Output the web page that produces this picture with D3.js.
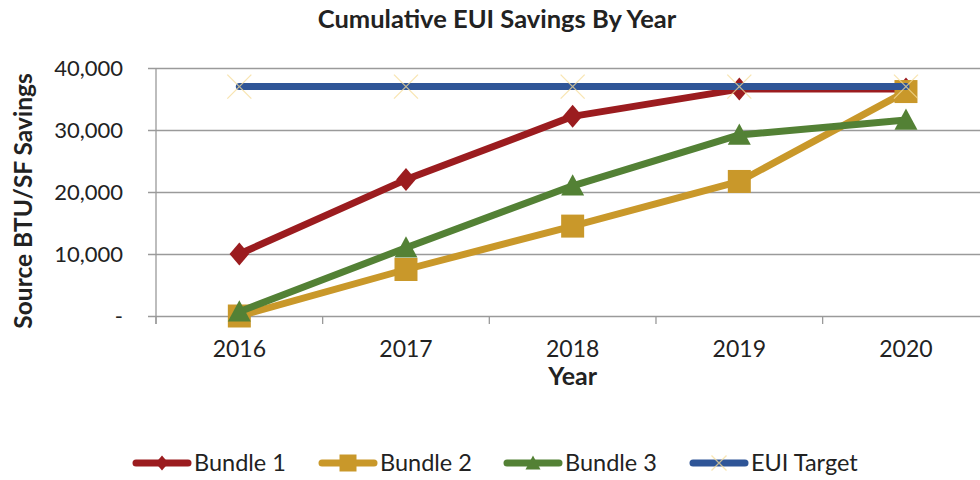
<!DOCTYPE html>
<html>
<head>
<meta charset="utf-8">
<script src="https://cdn.jsdelivr.net/npm/d3@7/dist/d3.min.js"></script>
<style>
  html, body { margin: 0; padding: 0; background: #fff; }
  svg { display: block; font-family: Lato, "Open Sans", sans-serif; }
</style>
</head>
<body>
<svg id="chart" width="980" height="480"></svg>
<script>
// Cumulative source EUI savings (BTU/SF) per bundle, 2016–2020
const years = ["2016", "2017", "2018", "2019", "2020"];
const bundle1 = [10000, 22000, 32200, 36600, 36600];
const bundle2 = [0, 7500, 14500, 21700, 36200];
const bundle3 = [700, 11000, 21000, 29200, 31600];
const euiTarget = [37000, 37000, 37000, 37000, 37000];
const yTicks = [0, 10000, 20000, 30000, 40000];
const seriesNames = ["Bundle 1", "Bundle 2", "Bundle 3", "EUI Target"];

const series = [
  { name: seriesNames[0], values: bundle1, color: "#9B1C1F", marker: "diamond" },
  { name: seriesNames[1], values: bundle2, color: "#C9982A", marker: "square" },
  { name: seriesNames[2], values: bundle3, color: "#538135", marker: "triangle" },
  { name: seriesNames[3], values: euiTarget, color: "#2F5597", marker: "x" }
];

const svg = d3.select("#chart");
const plotLeft = 156, plotRight = 989.3, plotTop = 68, plotBottom = 316;

const x = d3.scaleBand().domain(years).range([plotLeft, plotRight]).paddingInner(0).paddingOuter(0);
const cx = d => x(d) + x.bandwidth() / 2;
const y = d3.scaleLinear().domain([0, 40000]).range([plotBottom, plotTop]);

const gridColor = "#9a9a9a";
const textColor = "#222";

// Title
svg.append("text")
  .attr("x", 497).attr("y", 28)
  .attr("text-anchor", "middle")
  .attr("font-weight", "bold")
  .attr("font-size", 25.5)
  .attr("fill", textColor)
  .text("Cumulative EUI Savings By Year");

// Horizontal gridlines with outward ticks
const yAxis = d3.axisLeft(y)
  .tickValues(yTicks)
  .tickSizeInner(-(980 - plotLeft))
  .tickSizeOuter(0)
  .tickPadding(33)
  .tickFormat(d => d === 0 ? "-" : d3.format(",")(d));

const gy = svg.append("g").attr("transform", `translate(${plotLeft},0)`).call(yAxis);
gy.select(".domain").remove();
gy.selectAll(".tick line")
  .attr("x1", -8)
  .attr("stroke", gridColor)
  .attr("stroke-width", 1.3);
gy.selectAll(".tick text")
  .attr("font-size", 22)
  .attr("fill", textColor)
  .attr("font-family", "Lato, sans-serif");

// Vertical axis line
svg.append("line")
  .attr("x1", plotLeft).attr("x2", plotLeft)
  .attr("y1", plotTop).attr("y2", plotBottom + 8)
  .attr("stroke", gridColor).attr("stroke-width", 1.3);

// Category axis: boundary ticks and centred labels
const boundaries = years.map(d => x(d)).concat([plotRight]);
svg.append("g").selectAll("line")
  .data(boundaries)
  .join("line")
  .attr("x1", d => d).attr("x2", d => d)
  .attr("y1", plotBottom).attr("y2", plotBottom + 8)
  .attr("stroke", gridColor).attr("stroke-width", 1.3);

const xAxis = d3.axisBottom(x).tickSize(0).tickPadding(25);
const gx = svg.append("g").attr("transform", `translate(0,${plotBottom})`).call(xAxis);
gx.select(".domain").remove();
gx.selectAll(".tick text")
  .attr("font-size", 23)
  .attr("fill", textColor)
  .attr("font-family", "Lato, sans-serif");

// Axis titles
svg.append("text")
  .attr("x", (plotLeft + plotRight) / 2).attr("y", 385)
  .attr("text-anchor", "middle")
  .attr("font-weight", "bold").attr("font-size", 25)
  .attr("fill", textColor)
  .text("Year");

svg.append("text")
  .attr("transform", "translate(32,201) rotate(-90)")
  .attr("text-anchor", "middle")
  .attr("font-weight", "bold").attr("font-size", 24.5)
  .attr("fill", textColor)
  .text("Source BTU/SF Savings");

// Marker shapes
function markerPath(type, s) {
  const h = s / 2;
  if (type === "diamond") return `M0,${-h}L${h * 0.85},0L0,${h}L${-h * 0.85},0Z`;
  if (type === "square") return `M${-h},${-h}H${h}V${h}H${-h}Z`;
  if (type === "triangle") return `M0,${-h}L${h},${h * 0.85}L${-h},${h * 0.85}Z`;
  return `M${-h},${-h}L${h},${h}M${h},${-h}L${-h},${h}`;
}

function drawMarker(g, type, color, s) {
  if (type === "x") {
    g.append("path").attr("d", markerPath(type, s))
      .attr("fill", "none").attr("stroke", "#F6DC98")
      .attr("stroke-opacity", 0.75).attr("stroke-width", 1.3);
  } else {
    g.append("path").attr("d", markerPath(type, s)).attr("fill", color);
  }
}

const line = d3.line().x((d, i) => cx(years[i])).y(d => y(d));

// Series lines and markers (later series drawn on top)
series.forEach(s => {
  const g = svg.append("g");
  g.append("path")
    .attr("d", line(s.values))
    .attr("fill", "none")
    .attr("stroke", s.color)
    .attr("stroke-width", 7)
    .attr("stroke-linejoin", "round")
    .attr("stroke-linecap", "round");
  s.values.forEach((v, i) => {
    const mg = g.append("g").attr("transform", `translate(${cx(years[i])},${y(v)})`);
    drawMarker(mg, s.marker, s.color, s.marker === "x" ? 24 : 23);
  });
});

// Legend
const legendX = [133, 319, 504, 690];
const legendY = 463;
series.forEach((s, i) => {
  const g = svg.append("g").attr("transform", `translate(${legendX[i]},${legendY})`);
  g.append("line")
    .attr("x1", 3).attr("x2", 55)
    .attr("stroke", s.color).attr("stroke-width", 7)
    .attr("stroke-linecap", "round");
  const mg = g.append("g").attr("transform", "translate(29,0)");
  drawMarker(mg, s.marker, s.color, s.marker === "square" ? 17 : 15);
  g.append("text")
    .attr("x", 61).attr("y", 0)
    .attr("dy", "0.35em")
    .attr("font-size", 23.5)
    .attr("fill", textColor)
    .text(s.name);
});
</script>
</body>
</html>
